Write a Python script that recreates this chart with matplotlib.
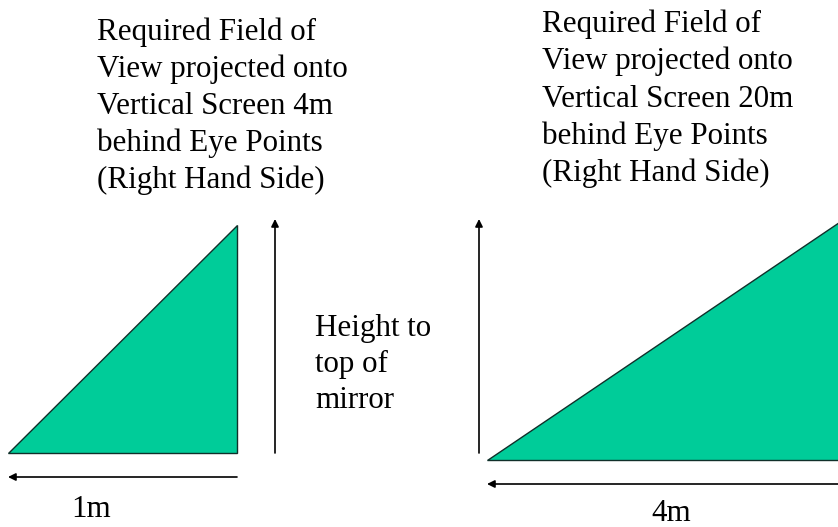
import matplotlib.pyplot as plt
from matplotlib.patches import Polygon

# pixel coordinates of the diagram (y grows downward)
W, H = 838, 527

left_tri_x = [8, 237, 237]
left_tri_y = [453, 453, 225]
right_tri_x = [487, 845, 845]
right_tri_y = [460, 460, 218]

# arrows: (x_start, y_start, x_tip, y_tip)
arrows = [
    (237, 477, 8, 477),
    (275, 453, 275, 219),
    (479, 453, 479, 219),
    (838, 484, 487, 484),
]

left_lines = ["Required Field of", "View projected onto", "Vertical Screen 4m",
              "behind Eye Points", "(Right Hand Side)"]
right_lines = ["Required Field of", "View projected onto", "Vertical Screen 20m",
               "behind Eye Points", "(Right Hand Side)"]
height_lines = ["Height to", "top of", "mirror"]
dim_labels = ["1m", "4m"]

green = "#00CC99"
fontsize = 22.3

fig = plt.figure(figsize=(W / 100, H / 100), dpi=100)
ax = fig.add_axes([0, 0, 1, 1])
ax.set_xlim(0, W)
ax.set_ylim(H, 0)
ax.axis("off")

for xs, ys in [(left_tri_x, left_tri_y), (right_tri_x, right_tri_y)]:
    ax.add_patch(Polygon(list(zip(xs, ys)), closed=True, facecolor=green,
                         edgecolor="#10302a", linewidth=1.0))

for x0, y0, x1, y1 in arrows:
    ax.annotate("", xy=(x1, y1), xytext=(x0, y0),
                arrowprops=dict(arrowstyle="-|>", color="black", lw=1.2,
                                mutation_scale=11, shrinkA=0, shrinkB=0))

txt = dict(fontsize=fontsize, family="Liberation Serif", va="baseline", ha="left")

def block(lines, x, y0, step):
    for i, s in enumerate(lines):
        ax.text(x, y0 + i * step, s, **txt)

block(left_lines, 97, 40, 37)
block(right_lines, 542, 32, 37.3)
block(height_lines, 315, 336, 36)

ax.text(91, 517, dim_labels[0], fontsize=fontsize, family="Liberation Serif",
        va="baseline", ha="center")
ax.text(671, 521, dim_labels[1], fontsize=fontsize, family="Liberation Serif",
        va="baseline", ha="center")

fig.savefig("out.png", dpi=100)
